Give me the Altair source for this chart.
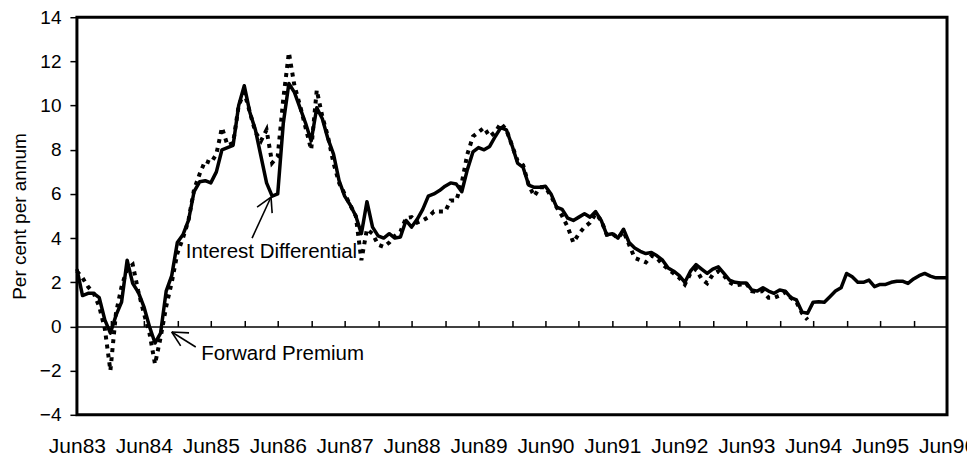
import altair as alt
import pandas as pd

# Month index 0 = Jun83 ... 156 = Jun96
x_labels = ["Jun83", "Jun84", "Jun85", "Jun86", "Jun87", "Jun88", "Jun89",
            "Jun90", "Jun91", "Jun92", "Jun93", "Jun94", "Jun95", "Jun96"]

interest_diff = [
    2.6, 1.4, 1.5, 1.5, 1.3, 0.3, -0.3, 0.5, 1.1, 3.0,
    1.95, 1.55, 0.9, 0.0, -0.75, -0.3, 1.6, 2.3, 3.8, 4.15,
    4.8, 6.1, 6.55, 6.6, 6.5, 7.0, 8.0, 8.1, 8.2, 10.0,
    10.9, 9.7, 8.9, 7.7, 6.5, 5.9, 6.0, 9.2, 11.0, 10.6,
    9.9, 9.2, 8.4, 9.9, 9.4, 8.5, 7.8, 6.6, 5.9, 5.5,
    5.0, 4.2, 5.65, 4.5, 4.1, 4.0, 4.2, 4.0, 4.05, 4.8,
    4.5, 4.85, 5.3, 5.9, 6.0, 6.15, 6.35, 6.5, 6.45, 6.1,
    7.1, 7.9, 8.1, 8.0, 8.15, 8.6, 9.0, 8.9, 8.2, 7.4,
    7.2, 6.4, 6.3, 6.3, 6.35, 6.0, 5.4, 5.3, 4.9, 4.8,
    4.95, 5.1, 4.95, 5.2, 4.8, 4.15, 4.2, 4.0, 4.4, 3.8,
    3.55, 3.4, 3.3, 3.35, 3.2, 3.0, 2.65, 2.5, 2.3, 2.0,
    2.5, 2.8, 2.6, 2.4, 2.6, 2.7, 2.4, 2.1, 2.0, 1.97,
    1.97, 1.65, 1.6, 1.75, 1.6, 1.5, 1.65, 1.6, 1.3, 1.2,
    0.65, 0.6, 1.1, 1.12, 1.1, 1.35, 1.6, 1.75, 2.4, 2.25,
    2.0, 2.0, 2.1, 1.8, 1.9, 1.9, 2.0, 2.05, 2.05, 1.95,
    2.15, 2.3, 2.4, 2.28, 2.2, 2.2, 2.2,
]

forward_premium = [
    2.5, 2.2, 1.8, 1.5, 0.9, -0.1, -2.0, 0.6, 1.8, 2.6,
    2.8, 1.6, 0.6, -0.3, -1.7, -0.5, 0.9, 2.0, 3.3, 4.0,
    4.8, 6.2, 6.9, 7.5, 7.4, 7.8, 9.0, 8.2, 8.3, 10.0,
    10.6, 9.7, 8.8, 8.4, 8.9, 7.4, 7.7, 10.3, 12.4, 10.9,
    10.0, 9.0, 8.0, 10.7, 9.5, 8.6, 7.4, 6.5, 6.0, 5.5,
    5.0, 3.0, 4.4, 4.2, 3.7, 3.6, 3.8, 4.1, 4.3, 4.9,
    4.95, 4.7, 4.8, 4.95, 5.2, 5.2, 5.2, 5.7, 5.7, 6.5,
    7.8, 8.6, 8.8, 9.0, 8.6, 8.8, 9.2, 8.9, 8.2, 7.5,
    7.3, 6.4, 5.9, 6.3, 6.3, 5.9, 5.4, 5.0, 4.5, 3.8,
    4.2, 4.5, 4.7, 5.1, 4.8, 4.15, 4.2, 4.0, 4.3, 3.7,
    3.1, 3.0, 2.9, 3.2, 3.1, 2.8, 2.6, 2.4, 2.2, 1.9,
    2.4, 2.6, 2.15, 1.95, 2.35, 2.5, 2.3, 2.0, 1.85, 1.9,
    1.95, 1.6, 1.55, 1.6, 1.3, 1.3, 1.4, 1.55, 1.3, 1.1,
    0.6, 0.3,
]

half_year_ticks = list(range(6, 151, 6))
year_ticks = list(range(0, 157, 12))
y_ticks = list(range(-4, 15, 2))

# annotations (data units)
ann_text = pd.DataFrame({
    "m": [19.5, 22.3],
    "v": [3.1, -1.52],
    "label": ["Interest Differential", "Forward Premium"],
})
arrows = pd.DataFrame({
    "m":  [31.4, 32.3, 35.0, 21.3, 20.1, 18.6],
    "v":  [4.0, 5.4, 5.13, -0.93, -0.29, -0.88],
    "m2": [34.8, 34.8, 34.8, 17.0, 17.0, 17.0],
    "v2": [5.86, 5.86, 5.86, -0.25, -0.25, -0.25],
})

df_id = pd.DataFrame({"m": list(range(len(interest_diff))), "v": interest_diff})
df_fp = pd.DataFrame({"m": list(range(len(forward_premium))), "v": forward_premium})

FONT = "Liberation Sans"
X_SCALE = alt.Scale(domain=[0, 156], nice=False, zero=False)
Y_SCALE = alt.Scale(domain=[-4, 14], nice=False, zero=False)
H = 398
W = 871

label_array = "[" + ",".join("'%s'" % s for s in x_labels) + "]"

y_axis = alt.Axis(
    values=y_ticks, tickSize=7, tickColor="black", tickWidth=1.5,
    labelPadding=9, labelFontSize=19, labelFont=FONT, labelColor="black",
    domain=False, grid=False,
    title="Per cent per annum", titleFont=FONT, titleFontSize=19,
    titleFontWeight="normal", titleColor="black",
    titleX=-51, titleY=H / 2, titleAngle=270, titleBaseline="alphabetic",
    titleAlign="center",
)

bottom_axis = alt.Axis(
    orient="bottom", values=year_ticks,
    labelExpr=label_array + "[round(datum.value/12)]",
    ticks=False, domain=False, grid=False, labelPadding=21,
    labelFontSize=21, labelFont=FONT, labelColor="black",
    labelFlush=False, labelOverlap=False, title=None,
)

zero_axis = alt.Axis(
    orient="top", offset=-H * 14 / 18, values=half_year_ticks,
    labels=False, ticks=True, tickSize=6, tickColor="black", tickWidth=1.5,
    domain=True, domainColor="black", domainWidth=1.5, grid=False, title=None,
)

y_enc = alt.Y("v:Q", scale=Y_SCALE, axis=y_axis)

fp_line = alt.Chart(df_fp).mark_line(
    color="black", strokeWidth=4, strokeDash=[4, 5]
).encode(
    x=alt.X("m:Q", scale=X_SCALE, axis=zero_axis),
    y=y_enc,
)

id_line = alt.Chart(df_id).mark_line(
    color="black", strokeWidth=3.5, strokeJoin="round"
).encode(
    x=alt.X("m:Q", scale=X_SCALE, axis=bottom_axis),
    y=y_enc,
)

arrow_layer = alt.Chart(arrows).mark_rule(color="black", strokeWidth=1.6).encode(
    x=alt.X("m:Q", scale=X_SCALE, axis=None),
    y=y_enc,
    x2="m2:Q",
    y2="v2:Q",
)

text_layer = alt.Chart(ann_text).mark_text(
    align="left", baseline="alphabetic", font=FONT, fontSize=20.5, color="black"
).encode(
    x=alt.X("m:Q", scale=X_SCALE, axis=None),
    y=y_enc,
    text="label:N",
)

chart = alt.layer(fp_line, id_line, arrow_layer, text_layer).resolve_axis(
    x="independent", y="shared"
).properties(
    width=W, height=H,
    autosize=alt.AutoSizeParams(type="none"),
    padding={"left": 69, "top": 9, "right": 20, "bottom": 42},
    background="white",
).configure_view(
    stroke="black", strokeWidth=3
)

chart.save("out.html", embed_options={"renderer": "svg", "actions": False})
